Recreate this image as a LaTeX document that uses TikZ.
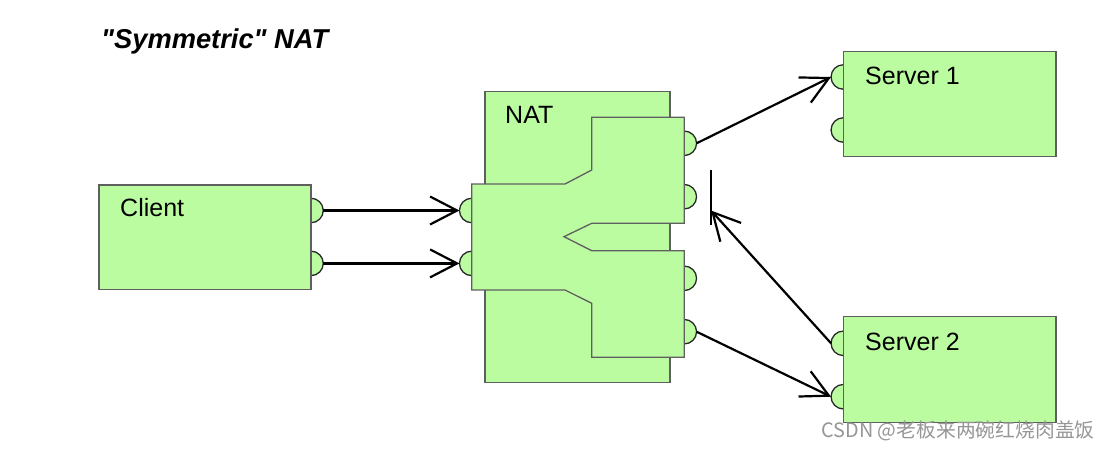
\documentclass[tikz,border=0pt]{standalone}
\usepackage{fontspec}
\setmainfont{Liberation Sans}
\newfontfamily\titlefont{Liberation Sans}[Ligatures=NoCommon]
\newfontfamily\cjk{Noto Sans CJK SC}
\usetikzlibrary{arrows.meta}
\definecolor{boxgreen}{RGB}{187,252,161}
\definecolor{boxborder}{RGB}{95,95,95}
\definecolor{portborder}{RGB}{40,40,40}
\definecolor{wmgray}{RGB}{150,150,150}
\begin{document}
\begin{tikzpicture}[x=1pt,y=-1pt,
  box/.style={draw=boxborder, fill=boxgreen, line width=1.3pt, anchor=north west, inner sep=0pt, outer sep=0pt},
  shapeline/.style={draw=boxborder, fill=boxgreen, line width=1.3pt},
  port/.style={draw=portborder, fill=boxgreen, line width=1.3pt, circle, minimum size=24.5pt, inner sep=0pt, outer sep=0pt},
  lbl/.style={anchor=base west, inner sep=0pt, font=\fontsize{25}{30}\selectfont},
  conn/.style={line width=2.2pt, -{Straight Barb[length=27pt,width=28pt]}},
  barline/.style={line width=2.2pt},
]
\useasboundingbox (0,0) rectangle (1108,450);

% NAT outer box
\node[box, minimum width=185pt, minimum height=291pt] (nat) at (485,91.7) {};
% ports of the inner NAT shape
\node[port] (nl1) at (471.7,210.5) {};
\node[port] (nl2) at (471.7,263.4) {};
\node[port] (nr1) at (684.3,143.3) {};
\node[port] (nr2) at (684.3,196.7) {};
\node[port] (nr3) at (684.3,278.3) {};
\node[port] (nr4) at (684.3,331.7) {};
% inner NAT shape
\draw[shapeline] (471.7,184) -- (565,184) -- (591.7,170) -- (591.7,117.3) -- (684.3,117.3)
  -- (684.3,223.3) -- (591.7,223.3) -- (564,236.7) -- (591.7,250.7) -- (684.3,250.7)
  -- (684.3,357.3) -- (591.7,357.3) -- (591.7,303.3) -- (565,290) -- (471.7,290) -- cycle;

% Client
\node[port] (cp1) at (311,210.5) {};
\node[port] (cp2) at (311,263.4) {};
\node[box, minimum width=212pt, minimum height=104.5pt] (client) at (99,185) {};

% Server 1
\node[port] (s1p1) at (843.3,77) {};
\node[port] (s1p2) at (843.3,130) {};
\node[box, minimum width=212.7pt, minimum height=105pt] (server1) at (843.3,51.7) {};

% Server 2
\node[port] (s2p1) at (843.3,343.3) {};
\node[port] (s2p2) at (843.3,396.7) {};
\node[box, minimum width=212.7pt, minimum height=106pt] (server2) at (843.3,316.7) {};

% labels
\node[lbl] (tclient) at (120,216.7) {Client};
\node[lbl] (tnat) at (505,123.3) {NAT};
\node[lbl] (ts1) at (865,84) {Server 1};
\node[lbl] (ts2) at (865,350) {Server 2};
\node[anchor=base west, inner sep=0pt, font=\titlefont\bfseries\itshape\fontsize{27.3}{31}\selectfont] (title) at (101,48.5) {"Symmetric" NAT};

% connectors
\draw[conn] (cp1.east) -- (nl1.west);
\draw[conn] (cp2.east) -- (nl2.west);
\draw[conn] (nr1.east) -- (s1p1.west);
\draw[conn] (nr4.east) -- (s2p2.west);
\coordinate (blk) at (711,210.5);
\coordinate (bartop) at (711,170);
\coordinate (barbot) at (711,225);
\draw[barline] (bartop) -- (barbot);
\draw[conn] (s2p1.west) -- (blk);

% watermark
\node[anchor=west, inner sep=0pt, text=wmgray, font=\cjk\fontsize{19.8}{22}\selectfont] (wm) at (821.5,430.5) {CSDN @老板来两碗红烧肉盖饭};
\end{tikzpicture}
\end{document}
